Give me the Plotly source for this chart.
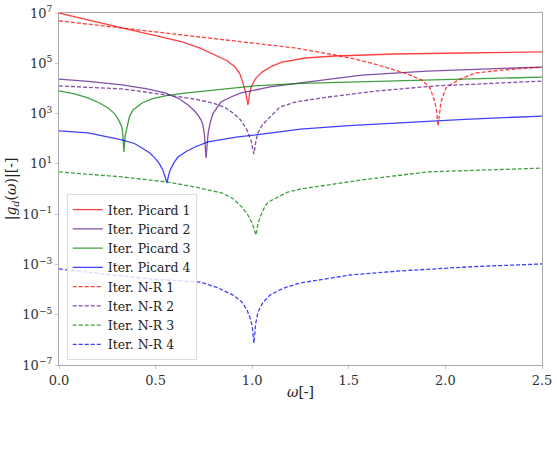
import plotly.graph_objects as go

# Iter. Picard 1
p1_w = [0.0, 0.15, 0.331, 0.5, 0.637, 0.73, 0.807, 0.87, 0.911, 0.935, 0.952, 0.966, 0.978, 0.988, 0.999, 1.02, 1.051, 1.10, 1.154, 1.273, 1.429, 1.739, 2.086, 2.5]
p1_l = [7.0, 6.72, 6.40, 6.10, 5.85, 5.60, 5.33, 5.10, 4.85, 4.60, 4.22, 3.85, 3.34, 3.85, 4.14, 4.42, 4.65, 4.88, 5.05, 5.21, 5.29, 5.37, 5.41, 5.45]
# Iter. Picard 2
p2_w = [0.0, 0.15, 0.326, 0.45, 0.549, 0.62, 0.668, 0.70, 0.719, 0.735, 0.745, 0.753, 0.761, 0.767, 0.772, 0.783, 0.797, 0.838, 0.89, 0.942, 1.093, 1.25, 1.568, 1.905, 2.5]
p2_l = [4.37, 4.28, 4.14, 3.99, 3.82, 3.60, 3.34, 3.12, 2.94, 2.75, 2.55, 2.15, 1.23, 1.90, 2.23, 2.65, 3.00, 3.46, 3.66, 3.82, 4.06, 4.22, 4.53, 4.69, 4.85]
# Iter. Picard 3
p3_w = [0.0, 0.08, 0.150, 0.21, 0.254, 0.285, 0.305, 0.318, 0.326, 0.331, 0.336, 0.342, 0.352, 0.365, 0.383, 0.430, 0.48, 0.549, 0.65, 0.756, 1.014, 1.25, 1.905, 2.5]
p3_l = [3.90, 3.78, 3.62, 3.42, 3.22, 3.02, 2.80, 2.62, 2.47, 2.10, 1.47, 2.10, 2.47, 2.88, 3.14, 3.42, 3.58, 3.70, 3.81, 3.90, 4.10, 4.20, 4.33, 4.45]
# Iter. Picard 4
p4_w = [0.0, 0.150, 0.326, 0.39, 0.430, 0.470, 0.497, 0.520, 0.538, 0.550, 0.559, 0.566, 0.575, 0.595, 0.616, 0.66, 0.704, 0.771, 0.926, 1.102, 1.25, 1.50, 1.739, 2.1, 2.5]
p4_l = [2.31, 2.23, 1.95, 1.81, 1.63, 1.43, 1.23, 1.00, 0.75, 0.50, 0.24, 0.50, 0.75, 1.05, 1.27, 1.50, 1.67, 1.87, 2.07, 2.23, 2.38, 2.52, 2.62, 2.77, 2.90]
# Iter. N-R 1
n1_w = [0.0, 0.331, 0.7, 1.0, 1.222, 1.429, 1.55, 1.651, 1.791, 1.879, 1.920, 1.946, 1.955, 1.962, 1.969, 1.977, 2.003, 2.065, 2.153, 2.293, 2.5]
n1_l = [6.69, 6.40, 6.07, 5.83, 5.61, 5.33, 5.14, 4.93, 4.61, 4.33, 4.02, 3.46, 3.05, 2.50, 3.05, 3.46, 4.02, 4.33, 4.61, 4.73, 4.85]
# Iter. N-R 2
n2_w = [0.0, 0.326, 0.559, 0.70, 0.797, 0.86, 0.901, 0.94, 0.973, 0.993, 1.009, 1.020, 1.030, 1.050, 1.076, 1.144, 1.222, 1.393, 1.651, 1.947, 2.5]
n2_l = [4.10, 3.98, 3.74, 3.58, 3.42, 3.24, 3.02, 2.75, 2.35, 1.95, 1.39, 1.95, 2.23, 2.52, 2.74, 3.26, 3.46, 3.66, 3.90, 4.10, 4.29]
# Iter. N-R 3
n3_w = [0.0, 0.150, 0.326, 0.559, 0.704, 0.844, 0.90, 0.947, 0.975, 0.999, 1.012, 1.020, 1.028, 1.041, 1.060, 1.082, 1.185, 1.25, 1.568, 1.905, 2.5]
n3_l = [0.68, 0.60, 0.48, 0.28, 0.08, -0.16, -0.38, -0.72, -1.00, -1.35, -1.60, -1.83, -1.45, -1.11, -0.78, -0.52, -0.12, 0.0, 0.36, 0.68, 0.83]
# Iter. N-R 4
n4_w = [0.0, 0.300, 0.471, 0.730, 0.82, 0.901, 0.945, 0.973, 0.990, 1.000, 1.009, 1.018, 1.030, 1.055, 1.092, 1.16, 1.247, 1.506, 1.765, 2.112, 2.5]
n4_l = [-3.18, -3.45, -3.58, -3.70, -3.92, -4.22, -4.48, -4.81, -5.15, -5.45, -6.13, -5.35, -4.89, -4.52, -4.22, -3.95, -3.74, -3.42, -3.26, -3.10, -2.98]

tick_vals = [1e-7, 1e-5, 1e-3, 1e-1, 1e1, 1e3, 1e5, 1e7]
tick_text = ["10<sup>−7</sup>", "10<sup>−5</sup>", "10<sup>−3</sup>", "10<sup>−1</sup>",
             "10<sup>1</sup>", "10<sup>3</sup>", "10<sup>5</sup>", "10<sup>7</sup>"]
x_ticks = [0.0, 0.5, 1.0, 1.5, 2.0, 2.5]
x_tick_text = ["0.0", "0.5", "1.0", "1.5", "2.0", "2.5"]

series = [
    ("Iter. Picard 1", p1_w, p1_l, "rgba(255,0,0,0.75)", "solid"),
    ("Iter. Picard 2", p2_w, p2_l, "rgba(90,20,140,0.75)", "solid"),
    ("Iter. Picard 3", p3_w, p3_l, "rgba(0,128,0,0.75)", "solid"),
    ("Iter. Picard 4", p4_w, p4_l, "rgba(0,0,255,0.75)", "solid"),
    ("Iter. N-R 1", n1_w, n1_l, "rgba(255,0,0,0.75)", "4px,2px"),
    ("Iter. N-R 2", n2_w, n2_l, "rgba(90,20,140,0.75)", "4px,2px"),
    ("Iter. N-R 3", n3_w, n3_l, "rgba(0,128,0,0.75)", "4px,2px"),
    ("Iter. N-R 4", n4_w, n4_l, "rgba(0,0,255,0.75)", "4px,2px"),
]

fig = go.Figure()
for name, w, l, col, dash in series:
    fig.add_trace(go.Scatter(
        x=w, y=[10 ** v for v in l], mode="lines", name=name,
        line=dict(color=col, width=1.3, dash=dash),
    ))

font_family = "DejaVu Serif"
fig.update_layout(
    width=557, height=457,
    margin=dict(l=59, r=15, t=13, b=92),
    paper_bgcolor="white", plot_bgcolor="white",
    font=dict(family=font_family, size=13, color="#333333"),
    showlegend=True,
    legend=dict(
        x=0.016, y=0.014, xanchor="left", yanchor="bottom",
        bgcolor="rgba(255,255,255,0.8)", bordercolor="#dddddd", borderwidth=1,
        font=dict(family=font_family, size=12.5, color="#222222"),
        tracegroupgap=0, itemwidth=30,
    ),
    xaxis=dict(
        range=[0, 2.5], tickvals=x_ticks, ticktext=x_tick_text, automargin=False,
        showgrid=False, zeroline=False, showline=True, linecolor="#a8a8a8", linewidth=1.2,
        mirror=True, ticks="outside", ticklen=3, tickcolor="#c8c8c8",
        title=dict(text="<i>ω</i>[-]", font=dict(family=font_family, size=14, color="#222222"), standoff=0),
        tickfont=dict(size=13, color="#333333"),
    ),
    yaxis=dict(
        type="log", range=[-7, 7], tickvals=tick_vals, ticktext=tick_text, automargin=False,
        showgrid=False, zeroline=False, showline=True, linecolor="#a8a8a8", linewidth=1.2,
        mirror=True, ticks="outside", ticklen=3, tickcolor="#c8c8c8",
        title=dict(text="|<i>g</i><sub><i>d</i></sub>(<i>ω</i>)|[-]", font=dict(family=font_family, size=14, color="#222222"), standoff=2),
        tickfont=dict(size=13, color="#333333"),
    ),
)

fig.write_html("out.html")
